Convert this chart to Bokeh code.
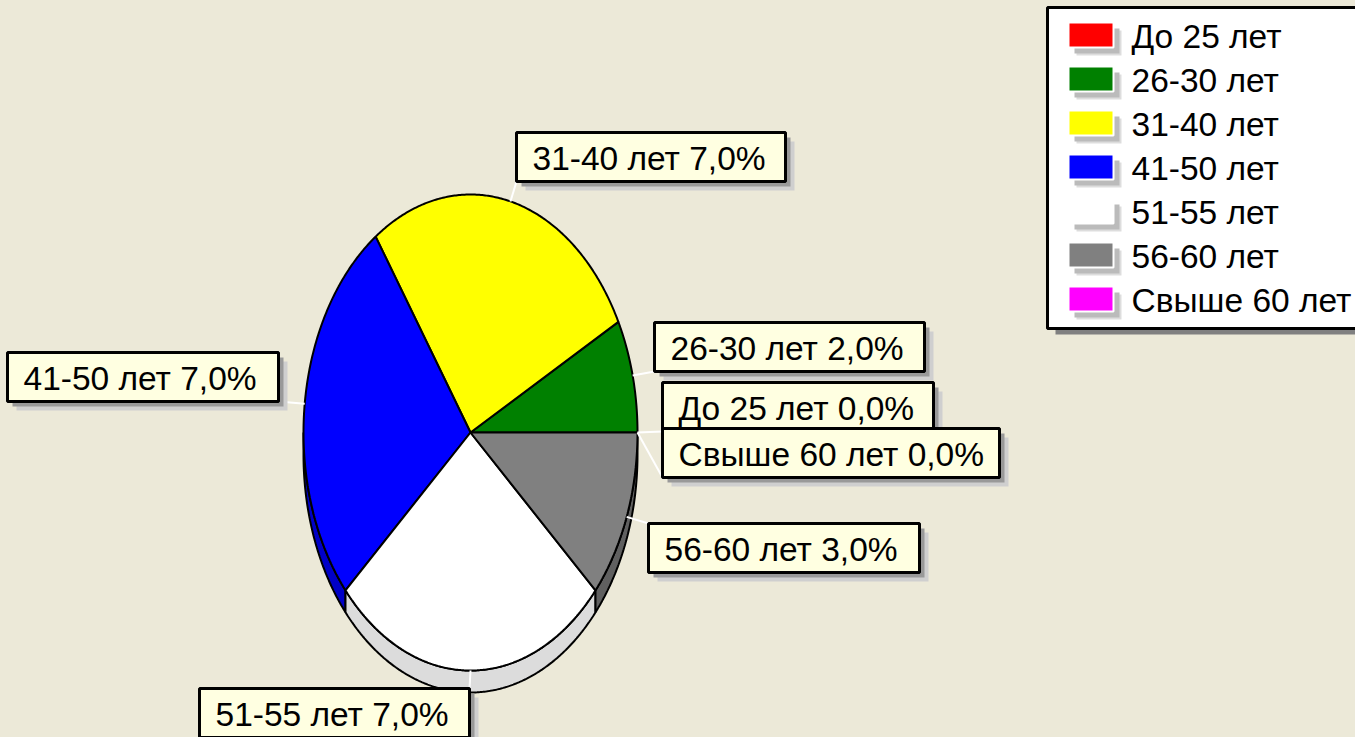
import numpy as np
from bokeh.plotting import figure
from bokeh.models import Range1d, GlobalInlineStyleSheet
from bokeh.core.properties import value
from bokeh.embed import file_html
from bokeh.resources import INLINE

# ---------------- data ----------------
categories = ["До 25 лет", "26-30 лет", "31-40 лет", "41-50 лет",
              "51-55 лет", "56-60 лет", "Свыше 60 лет"]
percents = [0.0, 2.0, 7.0, 7.0, 7.0, 3.0, 0.0]
colors = ["#FF0000", "#008000", "#FFFF00", "#0000FF",
          "#FFFFFF", "#808080", "#FF00FF"]
side_colors = ["#C00000", "#005A00", "#C0C000", "#0000C8",
               "#DCDCDC", "#606060", "#C000C0"]
labels = [f"{c} {v:.1f}%".replace(".", ",") for c, v in zip(categories, percents)]

# ---------------- layout (page pixels) ----------------
W, H = 1355, 737
BG = "#ECE9D8"
FONT = value("Liberation Sans")
FSIZE = "33.5px"
CX, CY, RX, RY, DEPTH = 470, 432, 167, 238, 22

label_left = [662, 654, 516, 7, 199, 648, 662]
label_top = [382, 322, 132, 352, 688, 523, 428]
label_w = [271, 270, 269, 271, 270, 271, 337]
label_h = 49
anchor = ["lb", "lb", "lb", "rb", "rt", "lt", "lb"]

LEG_L, LEG_T, LEG_R, LEG_B = 1047, 7, 1370, 328
SW_L, SW_W, SW_H, ROW0, ROWSTEP = 1068, 45, 25, 22, 44
TXT_X = 1131

p = figure(width=W, height=H, output_backend="svg", toolbar_location=None,
           x_range=Range1d(0, W), y_range=Range1d(H, 0),
           x_axis_location=None, y_axis_location=None,
           background_fill_color=BG, border_fill_color=BG,
           outline_line_color=None, min_border=0)
p.xgrid.visible = False
p.ygrid.visible = False
p.stylesheets = [GlobalInlineStyleSheet(css="body { background-color: #ECE9D8; }")]

total = sum(percents)
bounds = np.concatenate([[0.0], np.cumsum([v / total * 2 * np.pi for v in percents])])
starts, ends = bounds[:-1], bounds[1:]


def arc(t0, t1, dy=0.0):
    n = max(2, int(np.degrees(t1 - t0)) * 2 + 2)
    t = np.linspace(t0, t1, n)
    return CX + RX * np.cos(t), CY - RY * np.sin(t) + dy


# side of the 3D pie (only lower half visible)
sx, sy, sc = [], [], []
for i in range(len(percents)):
    s0, s1 = max(starts[i], np.pi), min(ends[i], 2 * np.pi)
    if percents[i] > 0 and s1 > s0:
        xt, yt = arc(s0, s1)
        xb, yb = arc(s0, s1, DEPTH)
        sx.append(list(np.concatenate([xt, xb[::-1]])))
        sy.append(list(np.concatenate([yt, yb[::-1]])))
        sc.append(side_colors[i])
p.patches(sx, sy, fill_color=sc, line_color="black", line_width=2)

# top face
tx, ty, tc = [], [], []
for i in range(len(percents)):
    if percents[i] > 0:
        xa, ya = arc(starts[i], ends[i])
        tx.append([CX] + list(xa) + [CX])
        ty.append([CY] + list(ya) + [CY])
        tc.append(colors[i])
p.patches(tx, ty, fill_color=tc, line_color="black", line_width=2)

# leader lines
lx, ly = [], []
for i in range(len(percents)):
    mid = (starts[i] + ends[i]) / 2
    x0, y0 = CX + RX * np.cos(mid), CY - RY * np.sin(mid)
    l, t = label_left[i], label_top[i]
    ex = l if anchor[i][0] == "l" else l + label_w[i]
    ey = t if anchor[i][1] == "t" else t + label_h
    lx.append([x0, ex])
    ly.append([y0, ey])
p.multi_line(lx, ly, line_color="white", line_width=2)

# label boxes
for i in range(len(percents)):
    l, t = label_left[i], label_top[i]
    r, b = l + label_w[i], t + label_h
    p.quad(left=l + 9, right=r + 9, top=t + 9, bottom=b + 9,
           fill_color="#CFCFCF", line_color=None)
    p.quad(left=l + 5, right=r + 5, top=t + 5, bottom=b + 5,
           fill_color="#999999", line_color=None)
    p.quad(left=l, right=r, top=t, bottom=b,
           fill_color="#FFFFE1", line_color="black", line_width=3)
    p.text(x=[l + 16], y=[t + label_h / 2 + 1], text=[labels[i]],
           text_font=FONT, text_font_size=FSIZE, text_color="black",
           text_baseline="middle", text_align="left")

# legend
p.quad(left=LEG_L + 8, right=LEG_R + 8, top=LEG_T + 6, bottom=LEG_B + 6,
       fill_color="#808080", line_color=None)
p.quad(left=LEG_L, right=LEG_R, top=LEG_T, bottom=LEG_B,
       fill_color="white", line_color="black", line_width=3)
for i, c in enumerate(categories):
    top = ROW0 + ROWSTEP * i
    p.quad(left=SW_L + 8, right=SW_L + SW_W + 8, top=top + 8, bottom=top + SW_H + 8,
           fill_color="#DDDDDD", line_color=None)
    p.quad(left=SW_L + 6, right=SW_L + SW_W + 6, top=top + 6, bottom=top + SW_H + 6,
           fill_color="#BBBBBB", line_color=None)
    p.quad(left=SW_L, right=SW_L + SW_W, top=top, bottom=top + SW_H,
           fill_color=colors[i], line_color="white", line_width=2)
    p.text(x=[TXT_X], y=[top + SW_H / 2 + 1], text=[c],
           text_font=FONT, text_font_size=FSIZE, text_color="black",
           text_baseline="middle", text_align="left")

open("out.html", "w").write(file_html(p, INLINE))
